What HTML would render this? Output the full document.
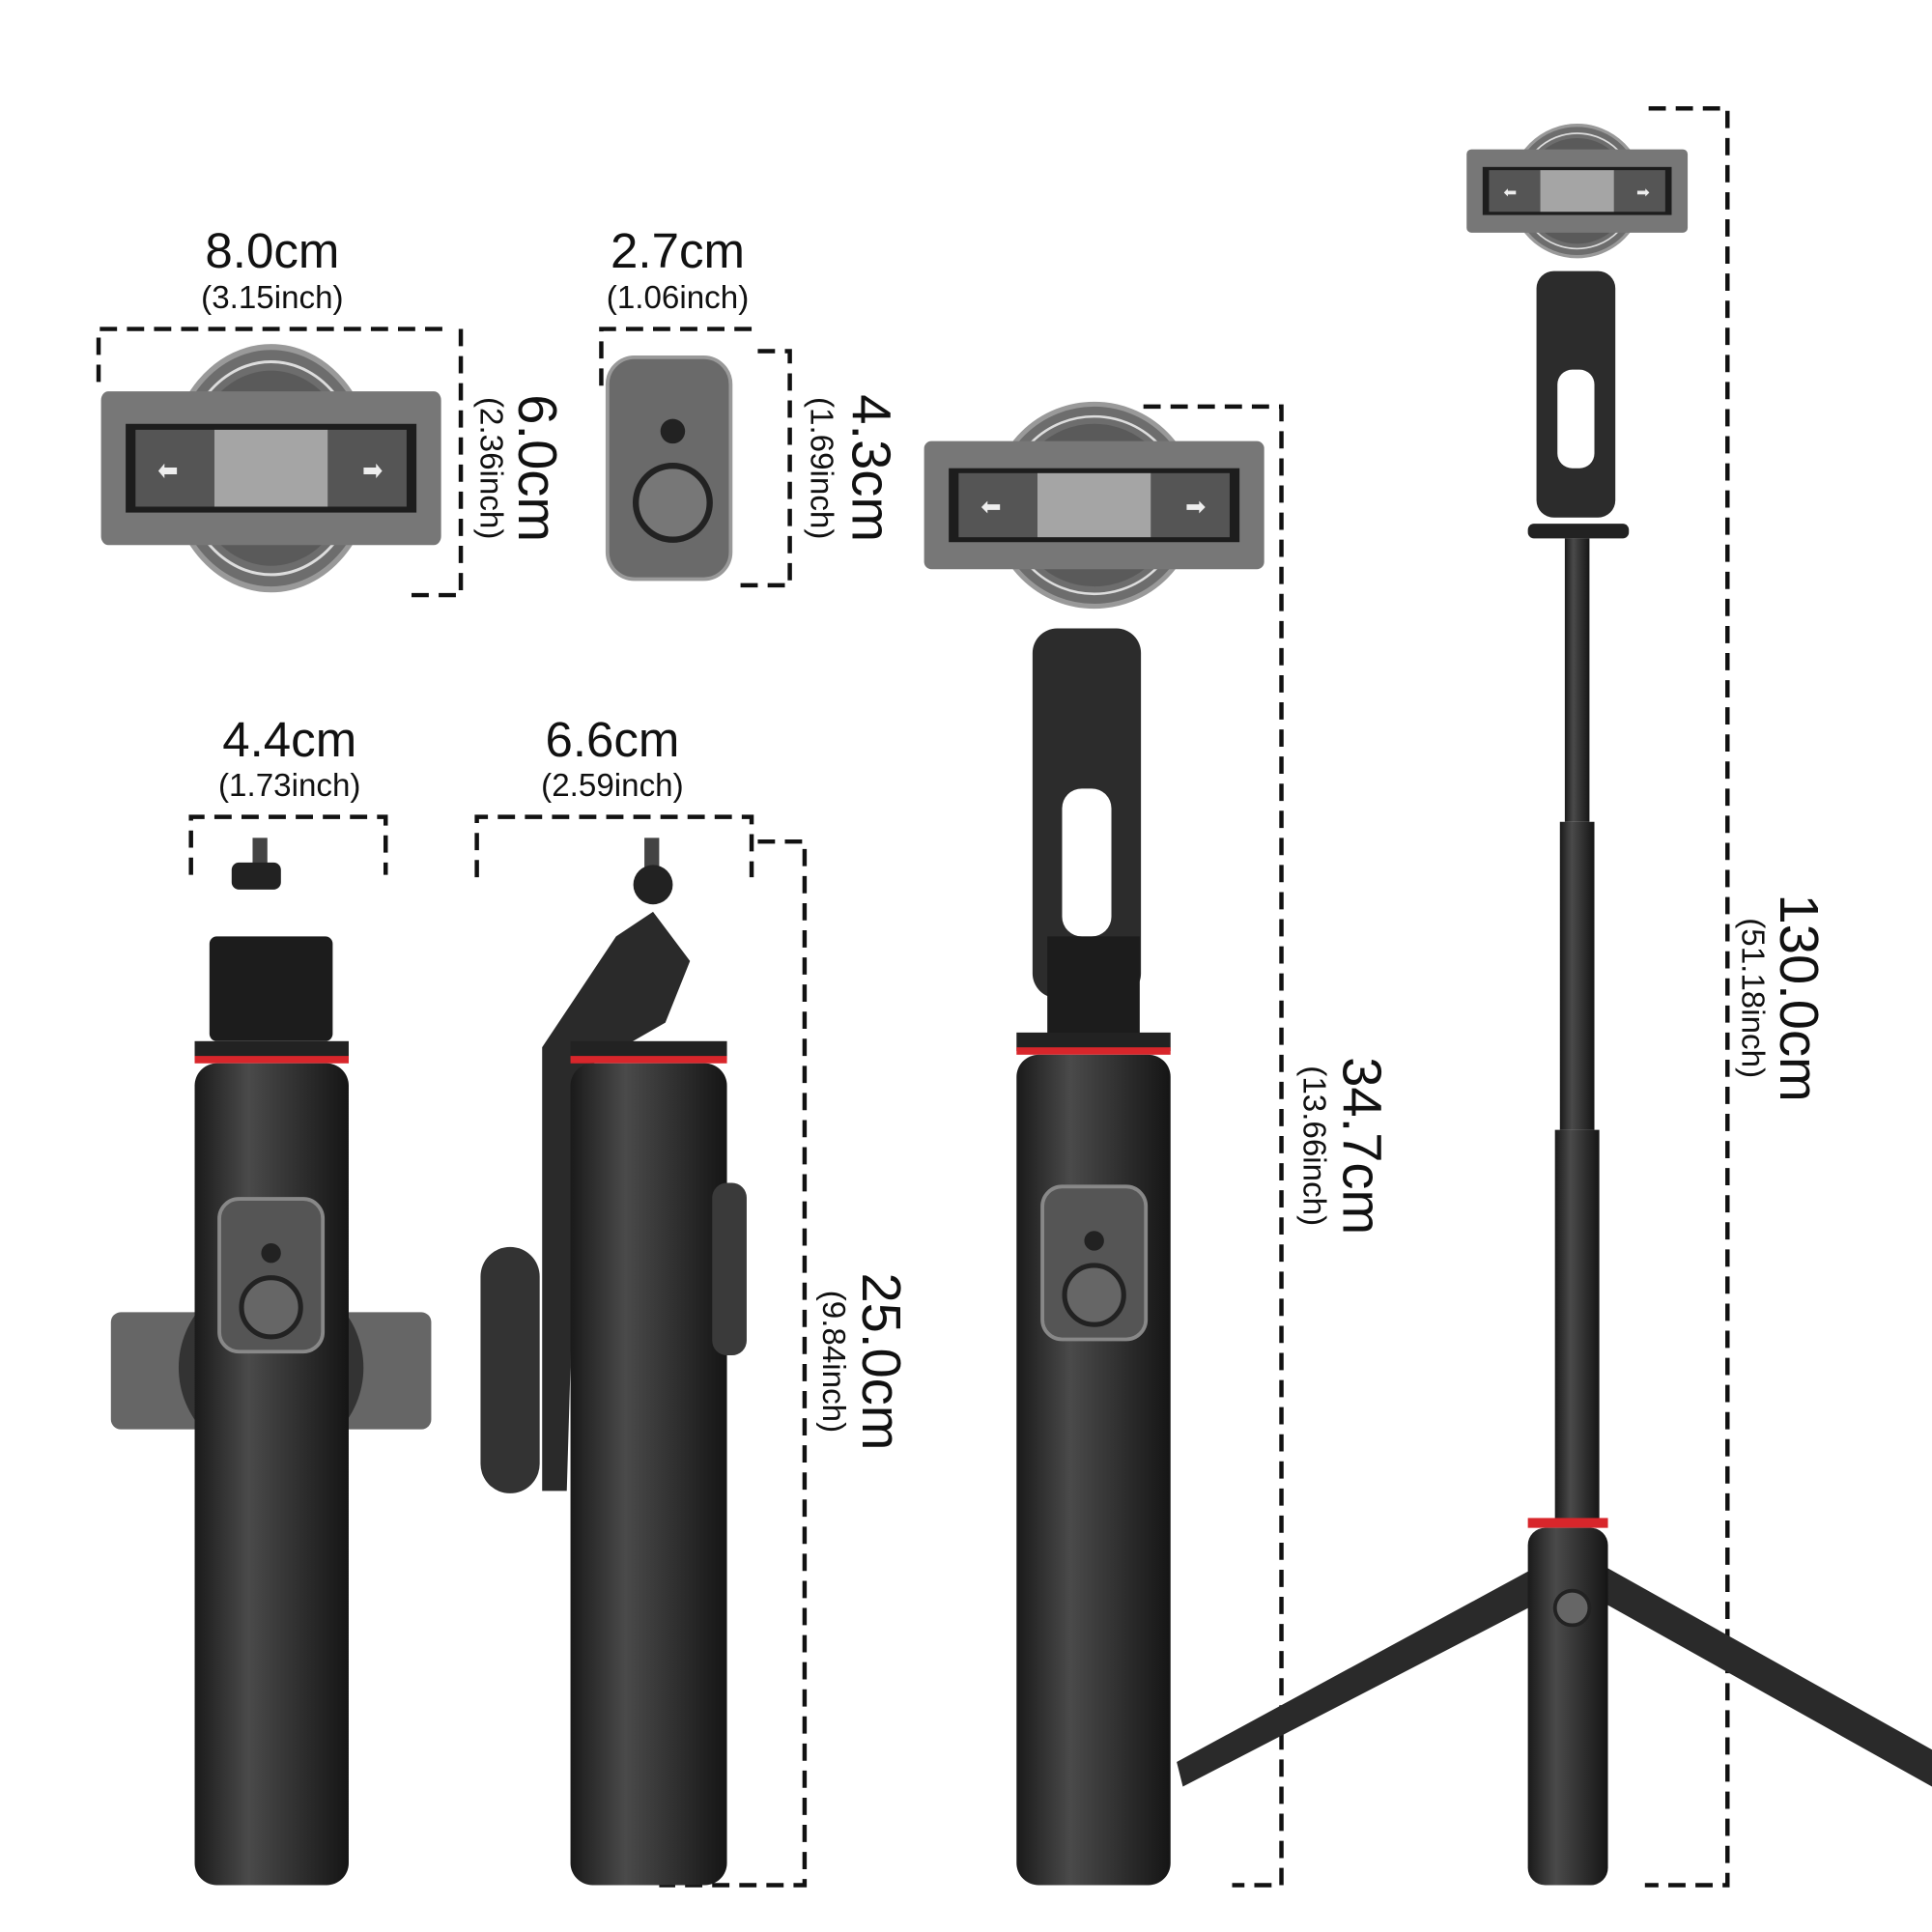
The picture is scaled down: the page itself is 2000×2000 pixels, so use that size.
<!DOCTYPE html>
<html><head><meta charset="utf-8"><style>
html,body{margin:0;padding:0;background:#fff;width:2000px;height:2000px;overflow:hidden}
svg{display:block}
text{font-family:"Liberation Sans",sans-serif;fill:#111}
.d{stroke:#111;stroke-width:3.5;stroke-dasharray:14 8;fill:none}
</style></head><body>
<svg width="2000" height="2000" viewBox="0 0 1568 1568">
<defs>
<linearGradient id="h" x1="0" x2="1"><stop offset="0" stop-color="#1a1a1a"/><stop offset=".35" stop-color="#4a4a4a"/><stop offset="1" stop-color="#151515"/></linearGradient>
<g id="clamp">
<circle cx="0" cy="0" r="82" fill="#6d6d6d" stroke="#999" stroke-width="4"/>
<circle cx="0" cy="0" r="72" fill="none" stroke="#ddd" stroke-width="2"/>
<circle cx="0" cy="0" r="66" fill="#5a5a5a"/>
<rect x="-138" y="-52" width="276" height="104" rx="6" fill="#777"/>
<rect x="-118" y="-30" width="236" height="60" fill="#1d1d1d"/>
<rect x="-110" y="-26" width="64" height="52" fill="#555"/>
<rect x="46" y="-26" width="64" height="52" fill="#555"/>
<rect x="-46" y="-26" width="92" height="52" fill="#a5a5a5"/>
<text x="-92" y="8" font-size="20" style="fill:#eee">⬅</text>
<text x="74" y="8" font-size="20" style="fill:#eee">➡</text>
</g>
<g id="btn">
<rect x="-42" y="-62" width="84" height="124" rx="16" fill="#555" stroke="#888" stroke-width="3"/>
<circle cx="0" cy="-18" r="8" fill="#222"/>
<circle cx="0" cy="26" r="24" fill="#666" stroke="#222" stroke-width="4"/>
</g>
</defs>

<text x="221" y="217" font-size="40" text-anchor="middle">8.0cm</text>
<text x="221" y="250" font-size="26" text-anchor="middle">(3.15inch)</text>
<text x="550" y="217" font-size="40" text-anchor="middle">2.7cm</text>
<text x="550" y="250" font-size="26" text-anchor="middle">(1.06inch)</text>
<text x="235" y="614" font-size="40" text-anchor="middle">4.4cm</text>
<text x="235" y="646" font-size="26" text-anchor="middle">(1.73inch)</text>
<text x="497" y="614" font-size="40" text-anchor="middle">6.6cm</text>
<text x="497" y="646" font-size="26" text-anchor="middle">(2.59inch)</text>
<text transform="translate(421,380) rotate(90)" text-anchor="middle" font-size="44">6.0cm</text>
<text transform="translate(692,380) rotate(90)" text-anchor="middle" font-size="44">4.3cm</text>
<text transform="translate(700,1105) rotate(90)" text-anchor="middle" font-size="44">25.0cm</text>
<text transform="translate(1090,930) rotate(90)" text-anchor="middle" font-size="44">34.7cm</text>
<text transform="translate(1445,810) rotate(90)" text-anchor="middle" font-size="44">130.0cm</text>
<text transform="translate(390,380) rotate(90)" text-anchor="middle" font-size="26">(2.36inch)</text>
<text transform="translate(658,380) rotate(90)" text-anchor="middle" font-size="26">(1.69inch)</text>
<text transform="translate(668,1105) rotate(90)" text-anchor="middle" font-size="26">(9.84inch)</text>
<text transform="translate(1058,930) rotate(90)" text-anchor="middle" font-size="26">(13.66inch)</text>
<text transform="translate(1414,810) rotate(90)" text-anchor="middle" font-size="26">(51.18inch)</text>

<path class="d" d="M80 310V267H360 M374 267V483H330"/>
<path class="d" d="M488 313V267H615 M615 285H641V475H595"/>
<path class="d" d="M155 710V663H313V710"/>
<path class="d" d="M387 712V663H610V712 M615 683H653V1530H535"/>
<path class="d" d="M928 330H1040V1530H1000"/>
<path class="d" d="M1338 88H1402V1530H1335"/>

<use href="#clamp" transform="translate(220,380) scale(1,1.2)"/>
<rect x="493" y="290" width="100" height="180" rx="22" fill="#6a6a6a" stroke="#999" stroke-width="3"/>
<circle cx="546" cy="350" r="10" fill="#222"/>
<circle cx="546" cy="408" r="30" fill="#777" stroke="#222" stroke-width="5"/>

<rect x="90" y="1065" width="260" height="95" rx="8" fill="#666"/>
<circle cx="220" cy="1110" r="75" fill="#333"/>
<rect x="205" y="680" width="12" height="25" fill="#444"/>
<rect x="188" y="700" width="40" height="22" rx="6" fill="#222"/>
<rect x="170" y="760" width="100" height="85" rx="6" fill="#1c1c1c"/>
<rect x="158" y="845" width="125" height="15" fill="#222"/>
<rect x="158" y="857" width="125" height="6" fill="#d8262b"/>
<rect x="158" y="863" width="125" height="667" rx="18" fill="url(#h)"/>
<use href="#btn" transform="translate(220,1035)"/>

<path d="M440 850 L500 760 L530 740 L560 780 L540 830 L470 870 L460 1210 L440 1210Z" fill="#2a2a2a"/>
<rect x="523" y="680" width="12" height="25" fill="#444"/>
<circle cx="530" cy="718" r="16" fill="#222"/>
<rect x="390" y="1012" width="48" height="200" rx="24" fill="#333"/>
<rect x="463" y="845" width="127" height="15" fill="#222"/>
<rect x="463" y="857" width="127" height="6" fill="#d8262b"/>
<rect x="463" y="863" width="127" height="667" rx="18" fill="url(#h)"/>
<rect x="578" y="960" width="28" height="140" rx="12" fill="#3a3a3a"/>

<rect x="838" y="510" width="88" height="300" rx="20" fill="#2c2c2c"/>
<rect x="862" y="640" width="40" height="120" rx="16" fill="#fff"/>
<rect x="850" y="760" width="75" height="80" fill="#1c1c1c"/>
<use href="#clamp" transform="translate(888,410)"/>
<rect x="825" y="838" width="125" height="15" fill="#222"/>
<rect x="825" y="850" width="125" height="6" fill="#d8262b"/>
<rect x="825" y="856" width="125" height="674" rx="18" fill="url(#h)"/>
<use href="#btn" transform="translate(888,1025)"/>

<path d="M1250 1270 L955 1430 L960 1450 L1250 1300Z" fill="#2a2a2a"/>
<path d="M1300 1270 L1568 1420 L1568 1450 L1300 1300Z" fill="#2a2a2a"/>
<use href="#clamp" transform="translate(1280,155) scale(0.65)"/>
<rect x="1247" y="220" width="64" height="200" rx="14" fill="#2c2c2c"/>
<rect x="1264" y="300" width="30" height="80" rx="12" fill="#fff"/>
<rect x="1240" y="425" width="82" height="12" rx="5" fill="#222"/>
<rect x="1270" y="437" width="20" height="230" fill="url(#h)"/>
<rect x="1266" y="667" width="28" height="250" fill="url(#h)"/>
<rect x="1262" y="917" width="36" height="320" fill="url(#h)"/>
<rect x="1240" y="1232" width="65" height="8" fill="#d8262b"/>
<rect x="1240" y="1240" width="65" height="290" rx="14" fill="url(#h)"/>
<circle cx="1276" cy="1305" r="14" fill="#666" stroke="#222" stroke-width="3"/>
</svg>
</body></html>
